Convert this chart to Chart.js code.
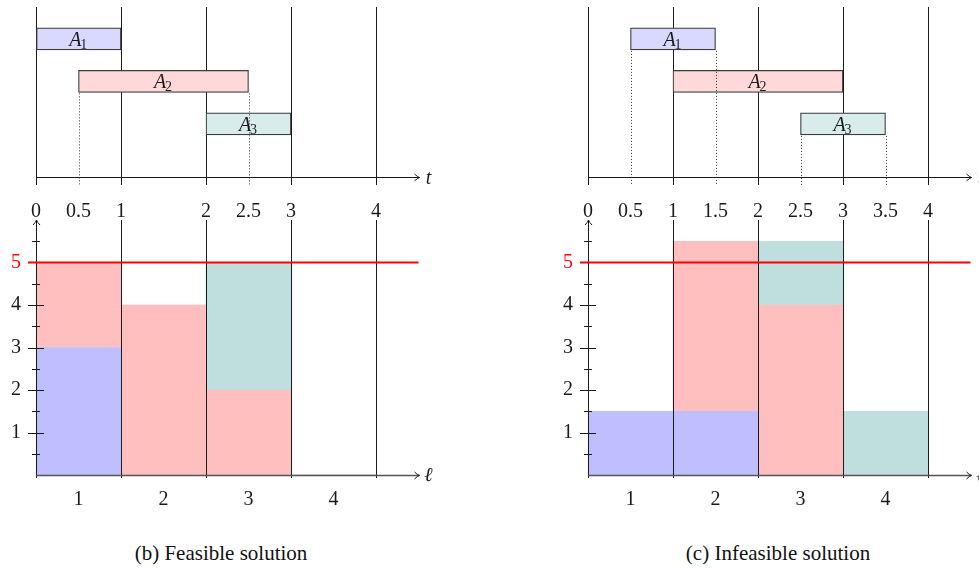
<!DOCTYPE html>
<html><head><meta charset="utf-8">
<script src="https://cdn.jsdelivr.net/npm/chart.js@4.4.1/dist/chart.umd.min.js"></script>
<style>
html,body{margin:0;padding:0;background:#fff;overflow:hidden;width:979px;height:568px;}
.wrap{position:absolute;left:0;top:0;width:979px;height:568px;overflow:hidden;}
canvas{position:absolute;}
.cap{position:absolute;top:541px;line-height:24px;font-family:'Liberation Serif';font-size:21px;color:#111;white-space:nowrap;transform:translateX(-50%);}
</style></head><body>
<div class="wrap">
<canvas id="topL" width="440" height="230" style="left:0px;top:0px"></canvas>
<canvas id="botL" width="440" height="330" style="left:0px;top:200px"></canvas>
<canvas id="topR" width="440" height="230" style="left:552px;top:0px"></canvas>
<canvas id="botR" width="440" height="330" style="left:552px;top:200px"></canvas>
<div class="cap" id="capL" style="left:221px">(b) Feasible solution</div>
<div class="cap" id="capR" style="left:778px">(c) Infeasible solution</div>
</div>
<script>
// ---------- data ----------
const taskNames = ['A1', 'A2', 'A3'];
const feasibleStart = [0, 0.5, 2];
const feasibleEnd = [1, 2.5, 3];
const infeasibleStart = [0.5, 1, 2.5];
const infeasibleEnd = [1.5, 3, 3.5];
const slotLabels = ['1', '2', '3', '4'];
const feasibleA1 = [3, 0, 0, 0];
const feasibleA2 = [2, 4, 2, 0];
const feasibleA3 = [0, 0, 3, 0];
const infeasibleA1 = [1.5, 1.5, 0, 0];
const infeasibleA2 = [0, 4, 4, 0];
const infeasibleA3 = [0, 0, 1.5, 1.5];
const capacity = 5;
const feasibleTimeTicks = [0, 0.5, 1, 2, 2.5, 3, 4];
const infeasibleTimeTicks = [0, 0.5, 1, 1.5, 2, 2.5, 3, 3.5, 4];
const slotBoundaries = [0, 1, 2, 3, 4];
const loadTicks = [0, 0.5, 1, 1.5, 2, 2.5, 3, 3.5, 4, 4.5, 5, 5.5, 6];
const timeAxisLabel = 't';
const slotAxisLabel = 'ℓ';
const captions = ['(b) Feasible solution', '(c) Infeasible solution'];

// ---------- styles ----------
const SERIF = "'Liberation Serif'";
const lightFill = ['rgb(217,217,255)', 'rgb(255,217,217)', 'rgb(217,236,236)'];
const fill = ['rgb(191,191,255)', 'rgb(255,191,191)', 'rgb(191,223,223)'];
const INK = '#1a1a1a';
Chart.defaults.font.family = SERIF;

function arrowRight(ctx, x, y) {
  ctx.beginPath();
  ctx.moveTo(x - 5, y - 3.5);
  ctx.quadraticCurveTo(x - 2, y - 0.6, x, y);
  ctx.quadraticCurveTo(x - 2, y + 0.6, x - 5, y + 3.5);
  ctx.stroke();
}
function arrowUp(ctx, x, y) {
  ctx.beginPath();
  ctx.moveTo(x - 3.5, y + 5);
  ctx.quadraticCurveTo(x - 0.6, y + 2, x, y);
  ctx.quadraticCurveTo(x + 0.6, y + 2, x + 3.5, y + 5);
  ctx.stroke();
}

const ganttPlugin = {
  id: 'gantt',
  afterDatasetsDraw(chart) {
    const {ctx, chartArea: a, scales: {x}} = chart;
    const meta = chart.getDatasetMeta(0);
    const pts = chart.data.datasets[0].data;
    ctx.save();
    ctx.strokeStyle = '#333';
    ctx.lineWidth = 1;
    ctx.setLineDash([1, 2]);
    meta.data.forEach((el, i) => {
      const bottom = el.y + el.height / 2;
      pts[i].x.forEach(v => {
        if (!Number.isInteger(v)) {
          const px = Math.round(x.getPixelForValue(v)) + 0.5;
          ctx.beginPath();
          ctx.moveTo(px, bottom + 1);
          ctx.lineTo(px, a.bottom + 8);
          ctx.stroke();
        }
      });
    });
    ctx.setLineDash([]);
    ctx.fillStyle = INK;
    ctx.textBaseline = 'alphabetic';
    meta.data.forEach((el, i) => {
      const name = chart.data.labels[i];
      const main = name[0], sub = name.slice(1);
      const cx = (el.x + el.base) / 2;
      ctx.font = 'italic 20px ' + SERIF;
      const w1 = ctx.measureText(main).width;
      ctx.font = '14px ' + SERIF;
      const w2 = ctx.measureText(sub).width;
      const start = cx - (w1 + w2) / 2;
      const base = el.y + 7;
      ctx.font = 'italic 20px ' + SERIF;
      ctx.textAlign = 'left';
      ctx.fillText(main, start, base);
      ctx.font = '14px ' + SERIF;
      ctx.fillText(sub, start + w1 - 1, base + 3);
    });
    const ay = Math.round(a.bottom) + 0.5;
    ctx.strokeStyle = INK;
    ctx.lineWidth = 1;
    ctx.beginPath();
    ctx.moveTo(a.left, ay);
    ctx.lineTo(a.right + 1, ay);
    ctx.stroke();
    arrowRight(ctx, a.right + 1, ay);
    ctx.font = 'italic 20px ' + SERIF;
    ctx.textAlign = 'center';
    ctx.textBaseline = 'middle';
    ctx.fillText(timeAxisLabel, a.right + 10, a.bottom + 2);
    ctx.restore();
  }
};

const loadPlugin = {
  id: 'load',
  afterDraw(chart) {
    const {ctx, chartArea: a, scales: {x, y}} = chart;
    ctx.save();
    const ax = Math.round(a.left) + 0.5;
    ctx.strokeStyle = INK;
    ctx.lineWidth = 1;
    y.ticks.forEach(t => {
      if (t.value <= y.min || t.value >= y.max) return;
      const py = Math.round(y.getPixelForValue(t.value)) + 0.5;
      const len = Number.isInteger(t.value) ? 8 : 4;
      ctx.beginPath();
      ctx.moveTo(a.left - len, py);
      ctx.lineTo(a.left + len, py);
      ctx.stroke();
    });
    const cy = y.getPixelForValue(capacity);
    ctx.strokeStyle = 'rgb(255,0,0)';
    ctx.lineWidth = 1.8;
    ctx.beginPath();
    ctx.moveTo(a.left - 8, cy);
    ctx.lineTo(a.right, cy);
    ctx.stroke();
    const by = Math.round(a.bottom) + 0.5;
    ctx.strokeStyle = '#555';
    ctx.lineWidth = 1.4;
    ctx.beginPath();
    ctx.moveTo(a.left, by);
    ctx.lineTo(a.right + 1, by);
    ctx.stroke();
    ctx.lineWidth = 1;
    ctx.strokeStyle = INK;
    arrowRight(ctx, a.right + 1, by);
    arrowUp(ctx, ax, a.top);
    ctx.fillStyle = INK;
    ctx.font = 'italic 20px ' + SERIF;
    ctx.textAlign = 'center';
    ctx.textBaseline = 'middle';
    ctx.fillText(slotAxisLabel, a.right + 10, a.bottom + 1);
    ctx.restore();
  }
};

function makeGantt(id, starts, ends, timeTicks) {
  new Chart(document.getElementById(id), {
    type: 'bar',
    data: {
      labels: taskNames,
      datasets: [{
        data: starts.map((s, i) => ({x: [s, ends[i]], y: i + 1})),
        backgroundColor: lightFill,
        borderColor: '#3a3a3a',
        borderWidth: 1.2,
        borderSkipped: false,
        barThickness: 22
      }]
    },
    options: {
      indexAxis: 'y',
      responsive: false,
      animation: false,
      events: [],
      layout: {padding: {left: 36, top: 7, right: 21.5, bottom: 0}},
      plugins: {legend: {display: false}, tooltip: {enabled: false}},
      scales: {
        x: {
          type: 'linear', min: 0, max: 4.5, offset: false,
          afterBuildTicks: s => { s.ticks = timeTicks.map(v => ({value: v})); },
          afterFit: s => { s.height = 53; s.paddingLeft = 0; s.paddingRight = 0; },
          border: {display: false},
          grid: {
            offset: false, lineWidth: 1, tickLength: 8,
            color: c => (c.tick && Number.isInteger(c.tick.value)) ? INK : 'rgba(0,0,0,0)'
          },
          ticks: {
            autoSkip: false, maxRotation: 0, padding: 15, color: INK,
            font: {family: SERIF, size: 20},
            callback: v => String(v)
          }
        },
        y: {type: 'linear', display: false, min: 0.25, max: 4.25, reverse: true, offset: false, grid: {offset: false}}
      }
    },
    plugins: [ganttPlugin]
  });
}

function makeLoad(id, s1, s2, s3) {
  const series = [s1, s2, s3];
  new Chart(document.getElementById(id), {
    type: 'bar',
    data: {
      datasets: series.map((vals, k) => ({
        label: taskNames[k],
        data: vals.map((v, i) => ({x: i + 0.5, y: v})),
        backgroundColor: fill[k],
        borderWidth: 0,
        barPercentage: 1,
        categoryPercentage: 1
      }))
    },
    options: {
      responsive: false,
      animation: false,
      events: [],
      layout: {padding: {left: 0, top: 20, right: 21.5, bottom: 0}},
      plugins: {legend: {display: false}, tooltip: {enabled: false}},
      scales: {
        x: {
          type: 'linear', min: 0, max: 4.5, stacked: true, offset: false,
          afterBuildTicks: s => { s.ticks = slotBoundaries.map(v => ({value: v})); },
          afterFit: s => { s.height = 55; s.paddingLeft = 0; s.paddingRight = 0; },
          border: {display: false},
          grid: {offset: false, color: INK, lineWidth: 1, tickLength: 3, z: 1},
          ticks: {
            autoSkip: false, maxRotation: 0, padding: 10, color: INK,
            labelOffset: 42.5,
            font: {family: SERIF, size: 20},
            callback: (v) => slotLabels[v] !== undefined ? slotLabels[v] : ''
          }
        },
        y: {
          type: 'linear', min: 0, max: 6, stacked: true,
          afterBuildTicks: s => { s.ticks = loadTicks.map(v => ({value: v})); },
          afterFit: s => { s.width = 36; s.paddingTop = 0; s.paddingBottom = 0; },
          border: {display: false},
          grid: {display: false, drawTicks: false},
          ticks: {
            autoSkip: false, padding: 15,
            font: {family: SERIF, size: 20},
            color: c => (c.tick && c.tick.value === capacity) ? 'rgb(255,0,0)' : INK,
            callback: v => (Number.isInteger(v) && v > 0 && v < 6) ? String(v) : ''
          }
        }
      }
    },
    plugins: [loadPlugin]
  });
}

function drawAll() {
  makeGantt('topL', feasibleStart, feasibleEnd, feasibleTimeTicks);
  makeGantt('topR', infeasibleStart, infeasibleEnd, infeasibleTimeTicks);
  makeLoad('botL', feasibleA1, feasibleA2, feasibleA3);
  makeLoad('botR', infeasibleA1, infeasibleA2, infeasibleA3);
  document.getElementById('capL').textContent = captions[0];
  document.getElementById('capR').textContent = captions[1];
}
const fontLoads = (document.fonts && document.fonts.load)
  ? Promise.all([
      document.fonts.load("20px 'Liberation Serif'"),
      document.fonts.load("italic 20px 'Liberation Serif'")
    ]).catch(() => null)
  : Promise.resolve();
fontLoads.then(drawAll, drawAll);
</script>
</body></html>
